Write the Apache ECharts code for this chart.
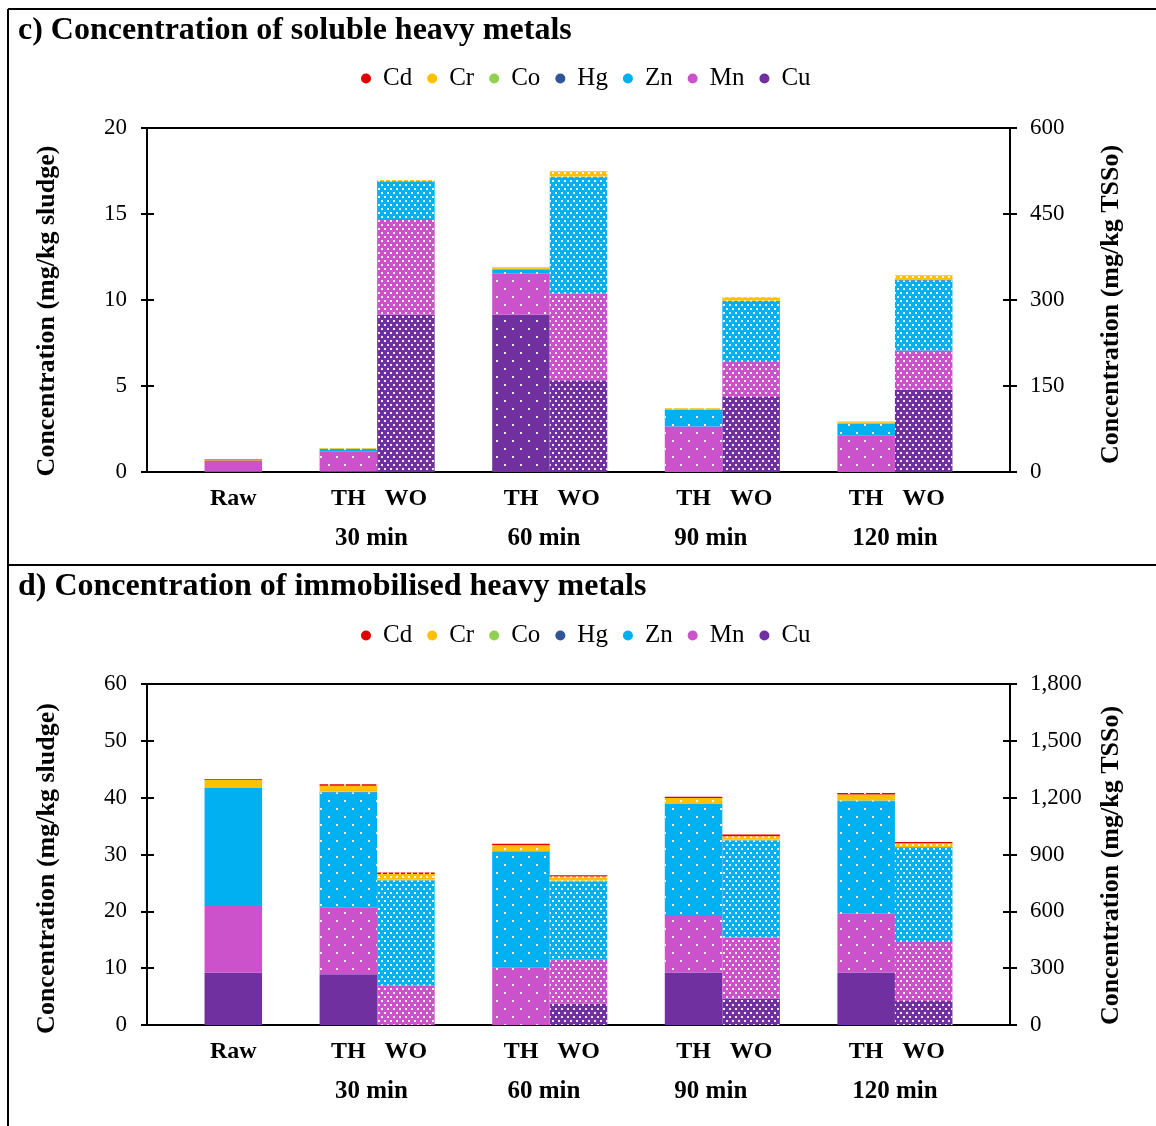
<!DOCTYPE html>
<html>
<head>
<meta charset="utf-8">
<script src="https://cdn.jsdelivr.net/npm/echarts@6/dist/echarts.min.js"></script>
<style>html,body{margin:0;padding:0;background:#fff}#c{width:1156px;height:1126px}</style>
</head>
<body>
<div id="c"></div>
<script>
// slots on the category axis (blank slots give the gaps)
const slots = ['s0','Raw','s1','TH30','WO30','s2','TH60','WO60','s3','TH90','WO90','s4','TH120','WO120','s5'];
const slotLabels = ['','Raw','','TH','WO','','TH','WO','','TH','WO','','TH','WO',''];
const barSlots = ['Raw','TH30','WO30','TH60','WO60','TH90','WO90','TH120','WO120'];
const groupLabels = ['30 min','60 min','90 min','120 min'];
const metals = ['Cd','Cr','Co','Hg','Zn','Mn','Cu'];

// c) soluble (mg/kg sludge), bars: Raw, TH30, WO30, TH60, WO60, TH90, WO90, TH120, WO120
const cuC = [0.02, 0.03, 9.14, 9.14, 5.33, 0.00, 4.36, 0.00, 4.78];
const mnC = [0.56, 1.15, 5.57, 2.38, 5.03, 2.65, 2.03, 2.11, 2.29];
const znC = [0.06, 0.15, 2.17, 0.25, 6.77, 0.97, 3.52, 0.70, 4.06];
const hgC = [0.02, 0.01, 0.02, 0.02, 0.02, 0.01, 0.03, 0.01, 0.05];
const coC = [0.01, 0.03, 0.02, 0.03, 0.03, 0.02, 0.02, 0.04, 0.02];
const crC = [0.02, 0.03, 0.06, 0.08, 0.30, 0.05, 0.20, 0.08, 0.24];
const cdC = [0.03, 0.00, 0.00, 0.01, 0.00, 0.00, 0.00, 0.00, 0.00];

// d) immobilised (mg/kg sludge)
const cuD = [9.24, 8.95, 0.00, 0.00, 3.80, 9.24, 4.68, 9.24, 4.21];
const mnD = [11.86, 11.70, 6.90, 10.06, 7.66, 9.94, 10.70, 10.35, 10.41];
const znD = [20.60, 20.30, 18.54, 20.40, 13.80, 19.70, 17.08, 19.77, 16.55];
const hgD = [0.05, 0.05, 0.05, 0.05, 0.05, 0.05, 0.05, 0.10, 0.10];
const coD = [0.10, 0.10, 0.10, 0.10, 0.10, 0.10, 0.10, 0.10, 0.05];
const crD = [1.30, 1.00, 1.00, 1.00, 0.70, 0.90, 0.60, 1.00, 0.65];
const cdD = [0.15, 0.25, 0.25, 0.30, 0.22, 0.24, 0.30, 0.25, 0.23];

const colors = {Cd:'#E00000', Cr:'#FFC000', Co:'#92D050', Hg:'#2F5597', Zn:'#00B0F0', Mn:'#CC52CC', Cu:'#7030A0'};
const FONT = 'Liberation Serif';

const sparse = {symbol:'rect', symbolSize:1, dashArrayX:[[2,14],[0,8,2,6]], dashArrayY:[2,6], color:'rgba(255,255,255,0.9)'};
const dense = {symbol:'rect', symbolSize:1, dashArrayX:[[2,4],[0,3,2,1]], dashArrayY:[2,2], color:'rgba(255,255,255,0.9)'};

function decalFor(panel, metal, bar) {
  if (bar === 'Raw') return null;
  if (bar.startsWith('WO')) return dense;
  if (panel === 'd' && metal === 'Cu') return null;
  return sparse;
}

function buildData(vals, panel, metal) {
  return slots.map(s => {
    const i = barSlots.indexOf(s);
    if (i < 0) return '-';
    const d = decalFor(panel, metal, s);
    return d ? {value: vals[i], itemStyle: {decal: d}} : {value: vals[i]};
  });
}

const panelC = {Cu:cuC, Mn:mnC, Zn:znC, Hg:hgC, Co:coC, Cr:crC, Cd:cdC};
const panelD = {Cu:cuD, Mn:mnD, Zn:znD, Hg:hgD, Co:coD, Cr:crD, Cd:cdD};
const stackOrder = ['Cu','Mn','Zn','Hg','Co','Cr','Cd'];

const series = [];
[['c', panelC, 0], ['d', panelD, 1]].forEach(([p, data, gi]) => {
  stackOrder.forEach(m => {
    series.push({
      name: m, type: 'bar', stack: 'st' + p,
      xAxisIndex: gi * 3, yAxisIndex: gi * 4,
      barCategoryGap: '0%', barGap: '0%',
      itemStyle: {color: colors[m]},
      emphasis: {disabled: true},
      data: buildData(data[m], p, m)
    });
  });
});

const grids = [
  {left: 147, right: 146, top: 128, height: 344},
  {left: 147, right: 146, top: 684, height: 341}
];

const xAxes = [], yAxes = [];
// group label anchor positions, in tenths of a category slot along the axis
const groupPos = {39: groupLabels[0], 69: groupLabels[1], 98: groupLabels[2], 130: groupLabels[3]};
const leftNames = ['Concentration (mg/kg sludge)', 'Concentration (mg/kg sludge)'];
const rightNames = ['Concentration (mg/kg TSSo)', 'Concentration (mg/kg TSSo)'];
const leftScale = [[20, 5], [60, 10]];
const rightScale = [[600, 150], [1800, 300]];
const leftNamePad = [[0, 22, 0, 0], [0, 28, 0, 0]];
const rightNamePad = [[0, 9, 0, 0], [0, 22, 0, 0]];
const AXC = '#000';

[0, 1].forEach(gi => {
  xAxes.push({
    type: 'category', gridIndex: gi, data: slots, position: 'bottom',
    axisLine: {show: true, onZero: false, lineStyle: {color: AXC, width: 2}},
    axisTick: {show: false},
    axisLabel: {interval: 0, margin: 15, color: '#000', fontFamily: FONT, fontWeight: 'bold', fontSize: 24,
      formatter: (v) => slotLabels[slots.indexOf(v)]}
  });
  xAxes.push({
    type: 'value', gridIndex: gi, min: 0, max: 150, interval: 1, position: 'bottom',
    axisLine: {show: false, onZero: false}, axisTick: {show: false}, splitLine: {show: false},
    axisLabel: {margin: 54, showMinLabel: true, showMaxLabel: true, color: '#000', fontFamily: FONT, fontWeight: 'bold', fontSize: 25,
      formatter: v => groupPos[Math.round(v)] || ''}
  });
  xAxes.push({
    type: 'category', gridIndex: gi, data: slots, position: 'top',
    axisLine: {show: true, onZero: false, lineStyle: {color: AXC, width: 2}},
    axisTick: {show: false}, axisLabel: {show: false}
  });
  const [lmax, lint] = leftScale[gi];
  const [rmax, rint] = rightScale[gi];
  yAxes.push({
    type: 'value', gridIndex: gi, position: 'left', min: 0, max: lmax, interval: lint,
    name: leftNames[gi], nameLocation: 'middle', nameRotate: 90, nameGap: 87,
    nameTextStyle: {color: '#000', fontFamily: FONT, fontWeight: 'bold', fontSize: 26, padding: leftNamePad[gi]},
    axisLine: {show: true, onZero: false, lineStyle: {color: AXC, width: 2}},
    axisTick: {show: true, inside: false, length: 6, lineStyle: {color: AXC, width: 2}},
    splitLine: {show: false},
    axisLabel: {margin: 20, color: '#000', fontFamily: FONT, fontSize: 23}
  });
  yAxes.push({
    type: 'value', gridIndex: gi, position: 'right', min: 0, max: rmax, interval: rint,
    name: rightNames[gi], nameLocation: 'middle', nameRotate: 90, nameGap: 88,
    nameTextStyle: {color: '#000', fontFamily: FONT, fontWeight: 'bold', fontSize: 26, padding: rightNamePad[gi]},
    axisLine: {show: true, onZero: false, lineStyle: {color: AXC, width: 2}},
    axisTick: {show: true, inside: false, length: 7, lineStyle: {color: AXC, width: 2}},
    splitLine: {show: false},
    axisLabel: {margin: 20, color: '#000', fontFamily: FONT, fontSize: 23,
      formatter: v => v.toLocaleString('en-US')}
  });
  yAxes.push({
    type: 'value', gridIndex: gi, position: 'left', min: 0, max: lmax, interval: lint,
    axisLine: {show: false, onZero: false}, splitLine: {show: false}, axisLabel: {show: false},
    axisTick: {show: true, inside: true, length: 7, lineStyle: {color: AXC, width: 2}}
  });
  yAxes.push({
    type: 'value', gridIndex: gi, position: 'right', min: 0, max: rmax, interval: rint,
    axisLine: {show: false, onZero: false}, splitLine: {show: false}, axisLabel: {show: false},
    axisTick: {show: true, inside: true, length: 7, lineStyle: {color: AXC, width: 2}}
  });
});

const legendCommon = {
  data: metals, icon: 'circle', itemWidth: 24, itemHeight: 10, itemGap: 15, padding: 0,
  textStyle: {color: '#000', fontFamily: FONT, fontSize: 25}, selectedMode: false
};

const chart = echarts.init(document.getElementById('c'), null, {renderer: 'canvas'});
chart.setOption({
  backgroundColor: '#fff',
  animation: false,
  title: [
    {text: 'c) Concentration of soluble heavy metals', left: 13, top: 10,
     textStyle: {color: '#000', fontFamily: FONT, fontWeight: 'bold', fontSize: 32}},
    {text: 'd) Concentration of immobilised heavy metals', left: 13, top: 566,
     textStyle: {color: '#000', fontFamily: FONT, fontWeight: 'bold', fontSize: 32}}
  ],
  legend: [
    Object.assign({top: 66, left: 361}, legendCommon),
    Object.assign({top: 623, left: 361}, legendCommon)
  ],
  grid: grids.map(g => Object.assign({show: false}, g)),
  xAxis: xAxes,
  yAxis: yAxes,
  series: series,
  graphic: [
    {type: 'line', shape: {x1: 8, y1: 9, x2: 1156, y2: 9}, style: {stroke: '#000', lineWidth: 2}, silent: true},
    {type: 'line', shape: {x1: 8, y1: 9, x2: 8, y2: 1126}, style: {stroke: '#000', lineWidth: 2}, silent: true},
    {type: 'line', shape: {x1: 8, y1: 565, x2: 1156, y2: 565}, style: {stroke: '#000', lineWidth: 2}, silent: true}
  ]
});
</script>
</body>
</html>
